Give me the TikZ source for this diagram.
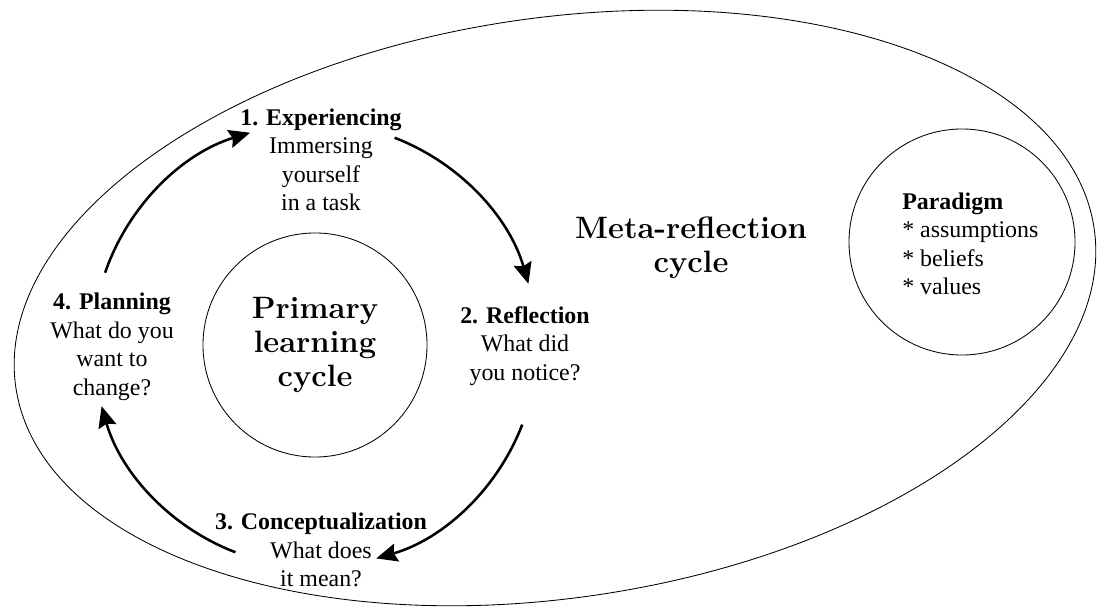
\documentclass[tikz,border=0pt]{standalone}
\usepackage{fontspec}
\newfontfamily\labelfont{Liberation Serif}
\usetikzlibrary{arrows.meta, positioning}

\begin{document}
\begin{tikzpicture}[x=0.025cm, y=0.025cm,
    stage/.style={align=center, inner sep=0pt, font=\labelfont\fontsize{17}{20.3}\selectfont},
    title/.style={align=center, inner sep=0pt, font=\fontsize{22}{24}\selectfont\bfseries},
    ring/.style={draw, circle, line width=0.6pt},
    cyc/.style={line width=1.8pt, -{Stealth[length=15pt, width=13pt, inset=2pt]}}]
    \useasboundingbox (0,0) rectangle (1100,608);

    % Outer ellipse
    \draw[line width=0.6pt, rotate around={8.4:(555,300)}] (555,300) ellipse [x radius=545, y radius=290];

    % Circles
    \node[ring, title, minimum size=5.6cm] (prim) at (315,263) {Primary\\learning\\cycle};
    \node[ring, minimum size=5.65cm] (para) at (962,366) {};
    \node[stage, align=left, anchor=west] (paratxt) at (902,364) {\textbf{Paradigm}\\* assumptions\\* beliefs\\* values};

    \node[title] (meta) at (691,360) {Meta-reflection\\cycle};

    % Stages
    \node[stage] (exp) at (321,448) {\textbf{1. Experiencing}\\Immersing\\yourself\\in a task};
    \node[stage] (refl) at (525,262) {\textbf{2. Reflection}\\What did\\you notice?};
    \node[stage] (conc) at (321,58) {\textbf{3. Conceptualization}\\What does\\it mean?};
    \node[stage] (plan) at (112,261) {\textbf{4. Planning}\\What do you\\want to\\change?};

    % Arc ends
    \coordinate (a1) at ([shift={(161:222)}]prim.center);
    \coordinate (a2) at ([shift={(69:222)}]prim.center);
    \coordinate (a3) at ([shift={(-21:222)}]prim.center);
    \coordinate (a4) at ([shift={(249:222)}]prim.center);

    % Cycle arrows
    \draw[cyc] (a1) arc[start angle=161, end angle=107, radius=222];
    \draw[cyc] (a2) arc[start angle=69, end angle=16, radius=222];
    \draw[cyc] (a3) arc[start angle=-21, end angle=-74, radius=222];
    \draw[cyc] (a4) arc[start angle=249, end angle=196, radius=222];
\end{tikzpicture}
\end{document}
